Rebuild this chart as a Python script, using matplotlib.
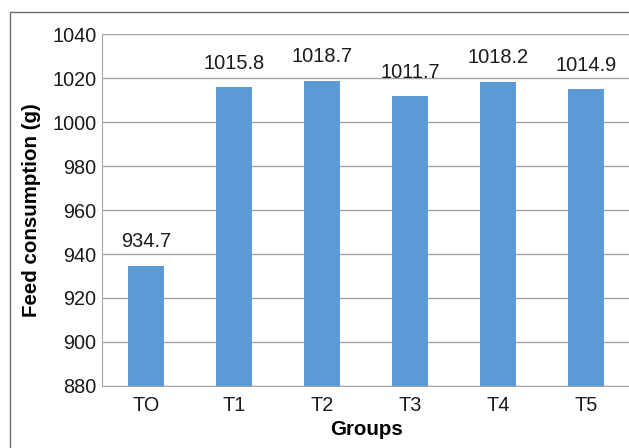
import matplotlib
matplotlib.use("Agg")
import matplotlib.pyplot as plt
from matplotlib.patches import Rectangle

groups = ["TO", "T1", "T2", "T3", "T4", "T5"]
feed = [934.7, 1015.8, 1018.7, 1011.7, 1018.2, 1014.9]
yticks = [880, 900, 920, 940, 960, 980, 1000, 1020, 1040]

plt.rcParams["font.family"] = ["Liberation Sans", "DejaVu Sans"]

W, H = 629, 448
fig = plt.figure(figsize=(W / 100, H / 100), dpi=100)
ax = fig.add_axes([102 / W, 1 - 386 / H, 528 / W, 352 / H])

# outer frame around the chart
fig.patches.append(Rectangle((10 / W, -0.1), 1.2, 1.1 - 12 / H,
                             transform=fig.transFigure, fill=False,
                             edgecolor="#6f6f6f", linewidth=1.0))

x = range(len(groups))
ax.bar(x, feed, width=0.4, color="#5B9BD5", zorder=3)
for xi, v in zip(x, feed):
    ax.annotate(f"{v:.1f}", (xi, v), xytext=(0, 10.5), textcoords="offset points",
                ha="center", va="bottom", fontsize=14.4, color="#1a1a1a")

ax.set_xlim(-0.5, len(groups) - 0.5)
ax.set_ylim(880, 1040)
ax.set_yticks(yticks)
ax.set_xticks(list(x))
ax.set_xticklabels(groups)
ax.tick_params(axis="both", length=0, labelsize=14.3, colors="#1a1a1a")
ax.tick_params(axis="x", pad=7)
ax.tick_params(axis="y", pad=4)
ax.yaxis.grid(True, color="#a6a6a6", linewidth=1.0, zorder=0)
ax.set_axisbelow(True)
for side in ["top", "right"]:
    ax.spines[side].set_visible(False)
ax.spines["left"].set_color("#a6a6a6")
ax.spines["bottom"].set_color("#a6a6a6")

ax.set_xlabel("Groups", fontsize=14.8, fontweight="bold", labelpad=4)
ax.set_ylabel("Feed consumption (g)", fontsize=14.8, fontweight="bold", labelpad=8)

fig.savefig("out.png", dpi=100)
